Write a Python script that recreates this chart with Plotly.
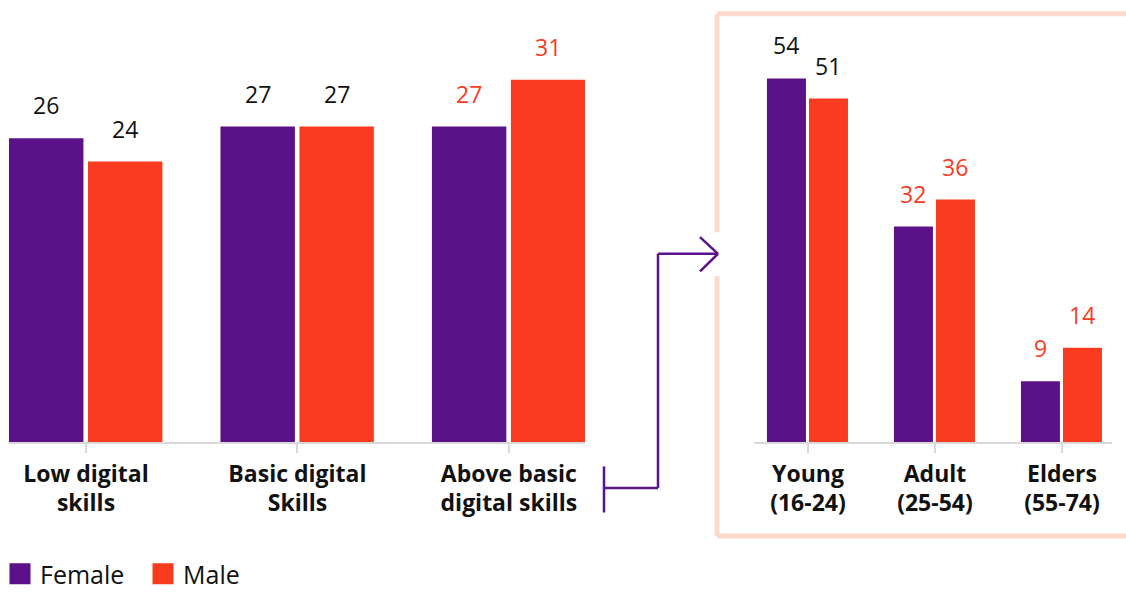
import plotly.graph_objects as go

# ---- data ----
skill_levels = ["Low digital<br>skills", "Basic digital<br>Skills", "Above basic<br>digital skills"]
skill_female = [26, 27, 27]
skill_male = [24, 27, 31]

age_groups = ["Young<br>(16-24)", "Adult<br>(25-54)", "Elders<br>(55-74)"]
age_female = [54, 32, 9]
age_male = [51, 36, 14]

# label colour per category (highlighted groups in red)
skill_label_colors = ["#111111", "#111111", "#f93c1f"]
age_label_colors = ["#111111", "#f93c1f", "#f93c1f"]

PURPLE = "#5b1189"
RED = "#f93c1f"
PEACH = "#fdd9cb"
GRID = "#d9d9d9"
FONT = "Open Sans"

W, H = 1126, 597


def px(x):
    return x / W


def py(y):
    return 1 - y / H


fig = go.Figure()

# bar geometry (in category units)
L_OFF_F, L_OFF_M, L_W = -0.364, 0.0095, 0.352
R_OFF_F, R_OFF_M, R_W = -0.323, 0.008, 0.307

fig.add_trace(go.Bar(x=skill_levels, y=skill_female, name="Female", marker_color=PURPLE,
                     offset=L_OFF_F, width=L_W, xaxis="x", yaxis="y", showlegend=False,
                     marker_line_width=0))
fig.add_trace(go.Bar(x=skill_levels, y=skill_male, name="Male", marker_color=RED,
                     offset=L_OFF_M, width=L_W, xaxis="x", yaxis="y", showlegend=False,
                     marker_line_width=0))
fig.add_trace(go.Bar(x=age_groups, y=age_female, name="Female", marker_color=PURPLE,
                     offset=R_OFF_F, width=R_W, xaxis="x2", yaxis="y2", showlegend=False,
                     marker_line_width=0))
fig.add_trace(go.Bar(x=age_groups, y=age_male, name="Male", marker_color=RED,
                     offset=R_OFF_M, width=R_W, xaxis="x2", yaxis="y2", showlegend=False,
                     marker_line_width=0))

# legend entries with large square swatches
for name, col in [("Female", PURPLE), ("Male", RED)]:
    fig.add_trace(go.Scatter(x=[None], y=[None], mode="markers", name=name,
                             marker=dict(symbol="square", size=16, color=col,
                                         line=dict(color=col, width=5))))

# value labels above bars
annotations = []
for vals_f, vals_m, cols, xa, ya, off_f, off_m, w in [
    (skill_female, skill_male, skill_label_colors, "x", "y", L_OFF_F, L_OFF_M, L_W),
    (age_female, age_male, age_label_colors, "x2", "y2", R_OFF_F, R_OFF_M, R_W),
]:
    for i in range(3):
        for v, off in [(vals_f[i], off_f), (vals_m[i], off_m)]:
            annotations.append(dict(
                x=i + off + w / 2, y=v, xref=xa, yref=ya, text=str(v),
                showarrow=False, yanchor="middle", yshift=33,
                font=dict(family=FONT, size=23, color=cols[i]),
            ))

axis_common = dict(
    showline=True, linecolor=GRID, linewidth=2,
    ticks="outside", ticklen=9, tickwidth=1.5, tickcolor=GRID,
    ticklabelstandoff=1,
    tickfont=dict(family=FONT, size=23, color="#111111", weight="bold"),
    showgrid=False, zeroline=False, fixedrange=True,
)
yaxis_common = dict(visible=False, showgrid=False, zeroline=False, fixedrange=True)

base = py(451)
fig.update_layout(
    width=W, height=H,
    margin=dict(l=0, r=0, t=0, b=0),
    paper_bgcolor="white", plot_bgcolor="white",
    barmode="overlay",
    xaxis=dict(domain=[px(9), px(585)], range=[-0.364, 2.36], anchor="y", **axis_common),
    yaxis=dict(domain=[base, 1], range=[0, 451 / 11.92], anchor="x", **yaxis_common),
    xaxis2=dict(domain=[px(754), px(1112)], range=[-0.425, 2.394], anchor="y2", **axis_common),
    yaxis2=dict(domain=[base, 1], range=[0, 451 / 6.87], anchor="x2", **yaxis_common),
    legend=dict(orientation="h", x=0, xanchor="left", y=py(586), yanchor="middle",
                font=dict(family=FONT, size=25, color="#111111"),
                itemwidth=30, entrywidth=98, entrywidthmode="pixels",
                bgcolor="rgba(0,0,0,0)", traceorder="normal"),
    annotations=annotations,
)

# highlight frame around the age breakdown (open where the connector enters)
frame = dict(type="line", xref="paper", yref="paper",
             line=dict(color=PEACH, width=5), layer="below")
fig.add_shape(**frame, x0=px(717), y0=py(14), x1=px(1135), y1=py(14))
fig.add_shape(**frame, x0=px(717), y0=py(14), x1=px(717), y1=py(237))
fig.add_shape(**frame, x0=px(717), y0=py(282), x1=px(717), y1=py(547))
fig.add_shape(**frame, x0=px(717), y0=py(547), x1=px(1135), y1=py(547))

# connector from the "Above basic" group into the frame
conn_line = dict(type="line", xref="paper", yref="paper", line=dict(color=PURPLE, width=2.5))
path_pts = [(604, 498), (658, 498), (658, 259), (718, 259)]
fig.add_shape(**conn_line, x0=px(604), y0=py(476), x1=px(604), y1=py(523))
for (x0, y0), (x1, y1) in zip(path_pts[:-1], path_pts[1:]):
    fig.add_shape(**conn_line, x0=px(x0), y0=py(y0), x1=px(x1), y1=py(y1))
for (x0, y0) in [(700, 242), (700, 277)]:
    fig.add_shape(**conn_line, x0=px(x0), y0=py(y0), x1=px(718), y1=py(259))

fig.write_html("out.html")
